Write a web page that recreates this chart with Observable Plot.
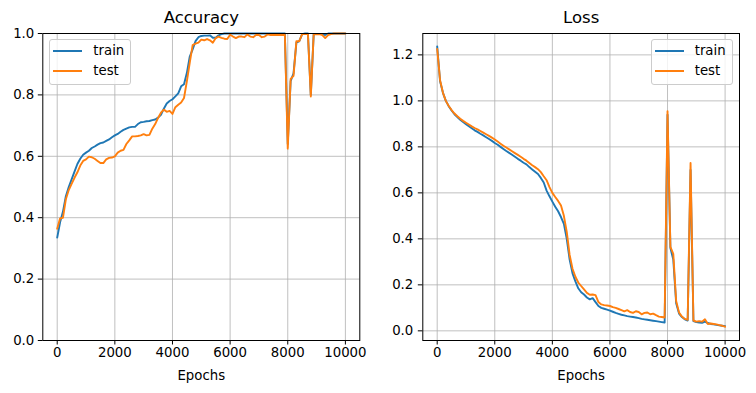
<!DOCTYPE html>
<html><head><meta charset="utf-8">
<script src="https://cdn.jsdelivr.net/npm/d3@7"></script>
<script src="https://cdn.jsdelivr.net/npm/@observablehq/plot@0.6"></script>
<style>
body{margin:0;background:#fff;font-family:"DejaVu Sans",sans-serif;}
#fig{position:relative;width:756px;height:393px;overflow:hidden;background:#fff;}
.panel{position:absolute;top:0;}
.legend{position:absolute;width:80px;height:44px;border:1px solid #cccccc;border-radius:3px;background:rgba(255,255,255,0.8);box-sizing:content-box;}
.sw{position:absolute;height:0;border-top:2px solid;width:29px;}
.lt{position:absolute;font-size:13.3px;line-height:15px;color:#000;font-family:"DejaVu Sans",sans-serif;}
</style>
</head><body>
<div id="fig"></div>
<script>
const epochs = [0,100,200,300,400,500,600,700,800,900,
1000,1100,1200,1300,1400,1500,1600,1700,1800,1900,
2000,2100,2200,2300,2400,2500,2600,2700,2800,2900,
3000,3100,3200,3300,3400,3500,3600,3700,3800,3900,
4000,4100,4200,4300,4400,4500,4600,4700,4800,4900,
5000,5100,5200,5300,5400,5500,5600,5700,5800,5900,
6000,6100,6200,6300,6400,6500,6600,6700,6800,6900,
7000,7100,7200,7300,7400,7500,7600,7700,7800,7900,
8000,8100,8200,8300,8400,8500,8600,8700,8800,8900,
9000,9100,9200,9300,9400,9500,9600,9700,9800,9900,
10000];

const accTrain = [0.335,0.385,0.420,0.470,0.500,0.525,0.550,0.575,0.592,0.605,
0.612,0.618,0.627,0.632,0.638,0.643,0.645,0.650,0.655,0.662,
0.668,0.673,0.680,0.686,0.690,0.694,0.696,0.696,0.705,0.711,
0.712,0.714,0.715,0.718,0.720,0.726,0.735,0.755,0.772,0.780,
0.786,0.795,0.805,0.828,0.835,0.872,0.925,0.948,0.975,0.988,
0.992,0.993,0.993,0.994,0.986,0.986,0.994,0.998,1.000,1.000,
1.000,1.000,1.000,1.000,1.000,1.000,1.000,1.000,1.000,1.000,
1.000,1.000,1.000,1.000,1.000,1.000,1.000,1.000,1.000,1.000,
0.640,0.845,0.870,0.970,0.975,0.998,1.000,1.000,0.800,0.998,
0.998,0.998,0.998,0.995,1.000,1.000,1.000,1.000,1.000,1.000,
1.000];

const accTest = [0.364,0.398,0.400,0.460,0.490,0.510,0.530,0.548,0.570,0.585,
0.590,0.599,0.597,0.592,0.585,0.578,0.578,0.590,0.595,0.596,
0.600,0.612,0.618,0.621,0.640,0.652,0.665,0.665,0.666,0.668,
0.672,0.668,0.670,0.690,0.705,0.725,0.742,0.752,0.745,0.748,
0.738,0.760,0.768,0.775,0.790,0.845,0.905,0.962,0.967,0.970,
0.980,0.978,0.982,0.978,0.970,0.985,0.990,0.986,0.983,0.982,
0.996,0.990,0.985,0.990,0.990,0.988,0.997,0.990,0.988,0.995,
0.995,0.988,0.990,0.997,0.995,0.995,0.995,0.995,0.995,0.995,
0.625,0.852,0.862,0.975,0.975,0.998,0.998,0.998,0.795,0.998,
0.997,0.998,0.995,0.985,0.995,0.998,1.000,1.000,1.000,1.000,
1.000];

const lossTrain = [1.237,1.085,1.035,1.000,0.977,0.958,0.942,0.930,0.918,0.908,
0.899,0.890,0.881,0.872,0.865,0.857,0.850,0.842,0.834,0.826,
0.817,0.809,0.800,0.791,0.782,0.774,0.766,0.757,0.748,0.740,
0.731,0.724,0.712,0.702,0.692,0.682,0.665,0.645,0.610,0.585,
0.562,0.540,0.520,0.495,0.465,0.400,0.310,0.250,0.215,0.185,
0.168,0.158,0.145,0.137,0.142,0.125,0.108,0.100,0.096,0.092,
0.088,0.083,0.078,0.074,0.070,0.067,0.064,0.062,0.060,0.058,
0.055,0.052,0.050,0.048,0.046,0.044,0.042,0.040,0.038,0.036,
0.940,0.360,0.310,0.120,0.075,0.060,0.050,0.045,0.700,0.042,
0.038,0.036,0.035,0.040,0.034,0.030,0.028,0.026,0.024,0.022,
0.020];

const lossTest = [1.226,1.090,1.035,1.000,0.978,0.960,0.945,0.933,0.922,0.913,
0.905,0.897,0.889,0.882,0.876,0.869,0.862,0.855,0.848,0.840,
0.832,0.823,0.814,0.805,0.797,0.789,0.781,0.773,0.765,0.757,
0.748,0.740,0.730,0.720,0.712,0.703,0.690,0.672,0.655,0.625,
0.600,0.582,0.565,0.545,0.500,0.430,0.330,0.270,0.235,0.210,
0.195,0.180,0.165,0.157,0.158,0.155,0.125,0.115,0.112,0.110,
0.108,0.103,0.100,0.095,0.090,0.085,0.090,0.082,0.078,0.085,
0.082,0.072,0.078,0.080,0.072,0.075,0.068,0.062,0.060,0.058,
0.955,0.365,0.335,0.130,0.080,0.062,0.052,0.048,0.730,0.045,
0.040,0.042,0.040,0.050,0.030,0.032,0.030,0.028,0.025,0.022,
0.018];

const xTicks = [0, 2000, 4000, 6000, 8000, 10000];
const accTicks = [0, 0.2, 0.4, 0.6, 0.8, 1.0];
const lossTicks = [0, 0.2, 0.4, 0.6, 0.8, 1.0, 1.2];
const seriesNames = ["train", "test"];
const seriesColors = ["#1f77b4", "#ff7f0e"];

const accData = epochs.map((e, i) => ({epoch: e, train: accTrain[i], test: accTest[i]}));
const lossData = epochs.map((e, i) => ({epoch: e, train: lossTrain[i], test: lossTest[i]}));

const fig = document.getElementById("fig");

function panel({title, data, yDomain, yTicks, mL, mR, left, tickPad}) {
  const grid = {stroke: "#b0b0b0", strokeOpacity: 1, strokeWidth: 0.8};
  const p = Plot.plot({
    width: 378, height: 393,
    marginLeft: mL, marginRight: mR, marginTop: 33, marginBottom: 53,
    style: "font-family: 'DejaVu Sans', sans-serif; font-size: 13.3px; color: #000; background: transparent; overflow: visible;",
    x: {domain: [-500, 10500]},
    y: {domain: yDomain},
    marks: [
      Plot.gridX(xTicks, grid),
      Plot.gridY(yTicks, grid),
      Plot.line(data, {x: "epoch", y: "train", stroke: seriesColors[0], strokeWidth: 1.9}),
      Plot.line(data, {x: "epoch", y: "test", stroke: seriesColors[1], strokeWidth: 1.9}),
      Plot.frame({stroke: "#000", strokeWidth: 1}),
      Plot.axisX(xTicks, {tickSize: 4.5, tickPadding: 3, label: null, fontSize: 13.3, tickFormat: d => String(d)}),
      Plot.axisY(yTicks, {tickSize: 4.5, tickPadding: tickPad, label: null, fontSize: 13.3, tickFormat: d3.format(".1f")}),
      Plot.text([title], {frameAnchor: "top", lineAnchor: "middle", dy: -15.5, fontSize: 16.5}),
      Plot.text(["Epochs"], {frameAnchor: "bottom", lineAnchor: "middle", dy: 35.7, fontSize: 13.3})
    ]
  });
  p.classList.add("panel");
  p.style.left = left + "px";
  fig.appendChild(p);
}

panel({title: "Accuracy", data: accData, yDomain: [0, 1], yTicks: accTicks, mL: 42.3, mR: 18.7, left: 0, tickPad: 4});
panel({title: "Loss", data: lossData, yDomain: [-0.042, 1.293], yTicks: lossTicks, mL: 44.3, mR: 17, left: 378, tickPad: 5});

function legend(x, y) {
  const box = document.createElement("div");
  box.className = "legend";
  box.style.left = x + "px";
  box.style.top = y + "px";
  seriesNames.forEach((name, i) => {
    const sw = document.createElement("div");
    sw.className = "sw";
    sw.style.borderColor = seriesColors[i];
    sw.style.left = "3px";
    sw.style.top = (9.5 + i * 20.7) + "px";
    box.appendChild(sw);
    const t = document.createElement("div");
    t.className = "lt";
    t.textContent = name;
    t.style.left = "43px";
    t.style.top = (2.5 + i * 20.7) + "px";
    box.appendChild(t);
  });
  fig.appendChild(box);
}
legend(49.3, 39.3);
legend(650.7, 39.3);
</script>
</body></html>
